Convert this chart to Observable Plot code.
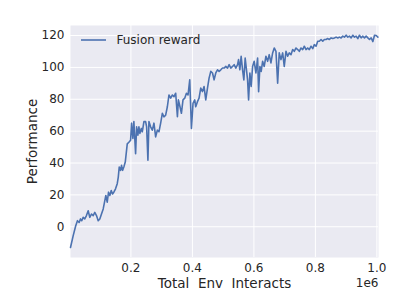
<!DOCTYPE html>
<html>
<head>
<meta charset="utf-8">
<script src="https://cdn.jsdelivr.net/npm/d3@7"></script>
<script src="https://cdn.jsdelivr.net/npm/@observablehq/plot@0.6"></script>
<style>
  body { margin: 0; background: #fff; }
  #chart svg { display: block; }
  #chart svg text { white-space: pre; }
</style>
</head>
<body>
<div id="chart"></div>
<script>
// Env interacts in thousands
const interactsK = [3.5,12.1,20.5,26.1,31.6,35.9,40.1,44.7,49.9,55.4,61.0,66.2,71.7,77.3,82.5,88.0,93.6,98.8,104.3,109.9,
115.1,118.4,122.9,127.2,131.4,136.0,140.2,144.4,150.0,155.5,158.8,162.0,166.3,169.5,172.8,177.0,181.6,188.1,193.3,198.9,
202.2,206.4,209.6,215.2,218.5,222.7,226.0,229.2,233.8,237.0,242.3,247.8,251.1,255.3,258.6,264.1,269.6,274.9,280.4,285.9,
291.2,296.7,302.2,307.5,313.0,318.5,323.8,329.3,334.9,340.1,345.6,351.2,354.4,359.6,364.2,369.4,375.0,380.5,385.7,391.3,
396.8,402.0,407.6,410.8,416.4,421.6,427.1,432.7,437.9,443.4,449.0,454.2,459.7,465.3,470.5,476.0,481.6,486.8,492.3,497.9,
503.1,508.6,514.2,519.4,524.9,530.5,535.7,541.2,546.8,550.0,554.3,558.5,563.1,567.3,571.6,579.4,582.7,586.9,591.1,595.7,
600.9,606.5,612.0,615.3,619.5,623.7,628.3,633.5,639.1,644.6,649.8,655.4,660.9,666.1,671.7,677.2,682.4,688.0,693.5,698.7,
704.3,709.8,715.0,720.6,726.1,731.3,736.9,742.4,747.6,753.2,758.7,763.9,769.5,775.0,780.2,785.8,791.3,796.5,802.1,807.6,
812.8,818.4,823.9,829.1,834.7,840.2,845.4,851.0,856.5,861.7,867.3,872.8,878.0,883.6,889.1,894.4,899.9,905.4,910.7,916.2,
921.7,927.0,932.5,938.0,943.3,948.8,954.3,959.6,965.1,970.6,975.9,981.4,986.9,992.2,997.7,1003.2];

const fusionReward = [-13,-5.7,0.6,3.8,2.7,4.9,3.8,5.9,4.9,7,10,5.9,8,7,9,7,3.8,4.9,8,11.2,
16.4,19.6,15.4,21.7,19.6,22.7,20.6,21.7,23.8,27,31,37.5,35.4,38.5,35.4,37.5,40.6,52,53,54.3,
65,55.4,66,45.9,62.7,57.5,62.7,58.6,61.7,59.6,66,66,62.7,41.7,66,62.7,60.6,65,56.4,60.6,
59.6,65,71.2,69,70,75.3,82.7,80.7,82.7,81.7,83.8,69,79.6,75.3,71.2,79.6,80.7,83.8,82.7,92.2,
61.7,77.5,79.6,75.3,78.5,80.7,87,84.8,88,79.6,87,93.3,97.5,96.5,92.2,96.5,98.5,97.5,98.5,99.6,
99.6,100.6,99.6,101.7,99.6,100.6,101.7,99.6,101.7,104.9,98.5,107,98.5,92.2,105.9,92.2,79.6,96.5,88,100.6,
103.8,96.5,105.9,84.8,100.6,97.5,103.8,100.6,107,103.8,108,102.8,109.1,112.2,110.1,90.1,109.1,104.9,109.1,100.6,
110.1,107,109.1,108,111.2,110.1,112.2,111.2,110.1,112.2,111.2,113.3,111.2,112.2,111.2,113.3,111.8,114.3,113.3,116.4,
116.4,117.5,116.4,117.5,117.5,118.1,117.5,118.5,118.1,118.5,119,118.5,119,118.5,119.6,119,120.2,119,119.6,118.5,
120.2,119,119.6,118.1,120.2,118.5,119.6,118.5,119.6,118.5,117.5,118.5,116.2,120.2,120,119];

const xTicks = [0.2e6, 0.4e6, 0.6e6, 0.8e6, 1.0e6];
const yTicks = [0, 20, 40, 60, 80, 100, 120];
const seriesName = "Fusion reward";
const xLabel = "Total  Env  Interacts";
const yLabel = "Performance";
const xOffsetLabel = "1e6";

const data = interactsK.map((k, i) => ({x: k * 1000, y: fusionReward[i]}));

const textColor = "#262626";
const fontFamily = "DejaVu Sans, sans-serif";

const chart = Plot.plot({
  width: 400,
  height: 304,
  marginLeft: 70,
  marginRight: 22,
  marginTop: 25,
  marginBottom: 47,
  style: {fontFamily, fontSize: "12px", color: textColor, background: "#fff"},
  x: {domain: [d3.min(interactsK) * 1000, d3.max(interactsK) * 1000 + 2000]},
  y: {domain: [-19.3, 126.3]},
  marks: [
    Plot.frame({fill: "#EAEAF2", stroke: null}),
    Plot.gridX(xTicks, {stroke: "#fff", strokeOpacity: 1, strokeWidth: 1}),
    Plot.gridY(yTicks, {stroke: "#fff", strokeOpacity: 1, strokeWidth: 1}),
    Plot.axisX(xTicks, {tickSize: 0, tickPadding: 6, tickFormat: d => (d / 1e6).toFixed(1), label: null, fontSize: 12, fill: textColor}),
    Plot.axisY(yTicks, {tickSize: 0, tickPadding: 6, label: null, fontSize: 12, fill: textColor}),
    Plot.line(data, {x: "x", y: "y", stroke: "#4C72B0", strokeWidth: 1.6}),
    Plot.text([seriesName], {frameAnchor: "top-left", dx: 46, dy: 15, lineAnchor: "middle", text: d => d, fontSize: 12, fill: textColor, textAnchor: "start"}),
    Plot.text([xLabel], {frameAnchor: "bottom", dy: 26, lineAnchor: "middle", text: d => d, fontSize: 13.5, fill: textColor, textAnchor: "middle"}),
    Plot.text([xOffsetLabel], {frameAnchor: "bottom-right", dy: 26, dx: 0, lineAnchor: "middle", text: d => d, fontSize: 12, fill: textColor, textAnchor: "end"}),
    Plot.text([yLabel], {frameAnchor: "left", dx: -38, rotate: -90, lineAnchor: "middle", textAnchor: "middle", text: d => d, fontSize: 13.5, fill: textColor})
  ]
});

// legend swatch
const svg = d3.select(chart);
svg.append("line")
  .attr("x1", 81).attr("x2", 106).attr("y1", 40).attr("y2", 40)
  .attr("stroke", "#4C72B0").attr("stroke-width", 1.6);

document.getElementById("chart").appendChild(chart);
</script>
</body>
</html>
